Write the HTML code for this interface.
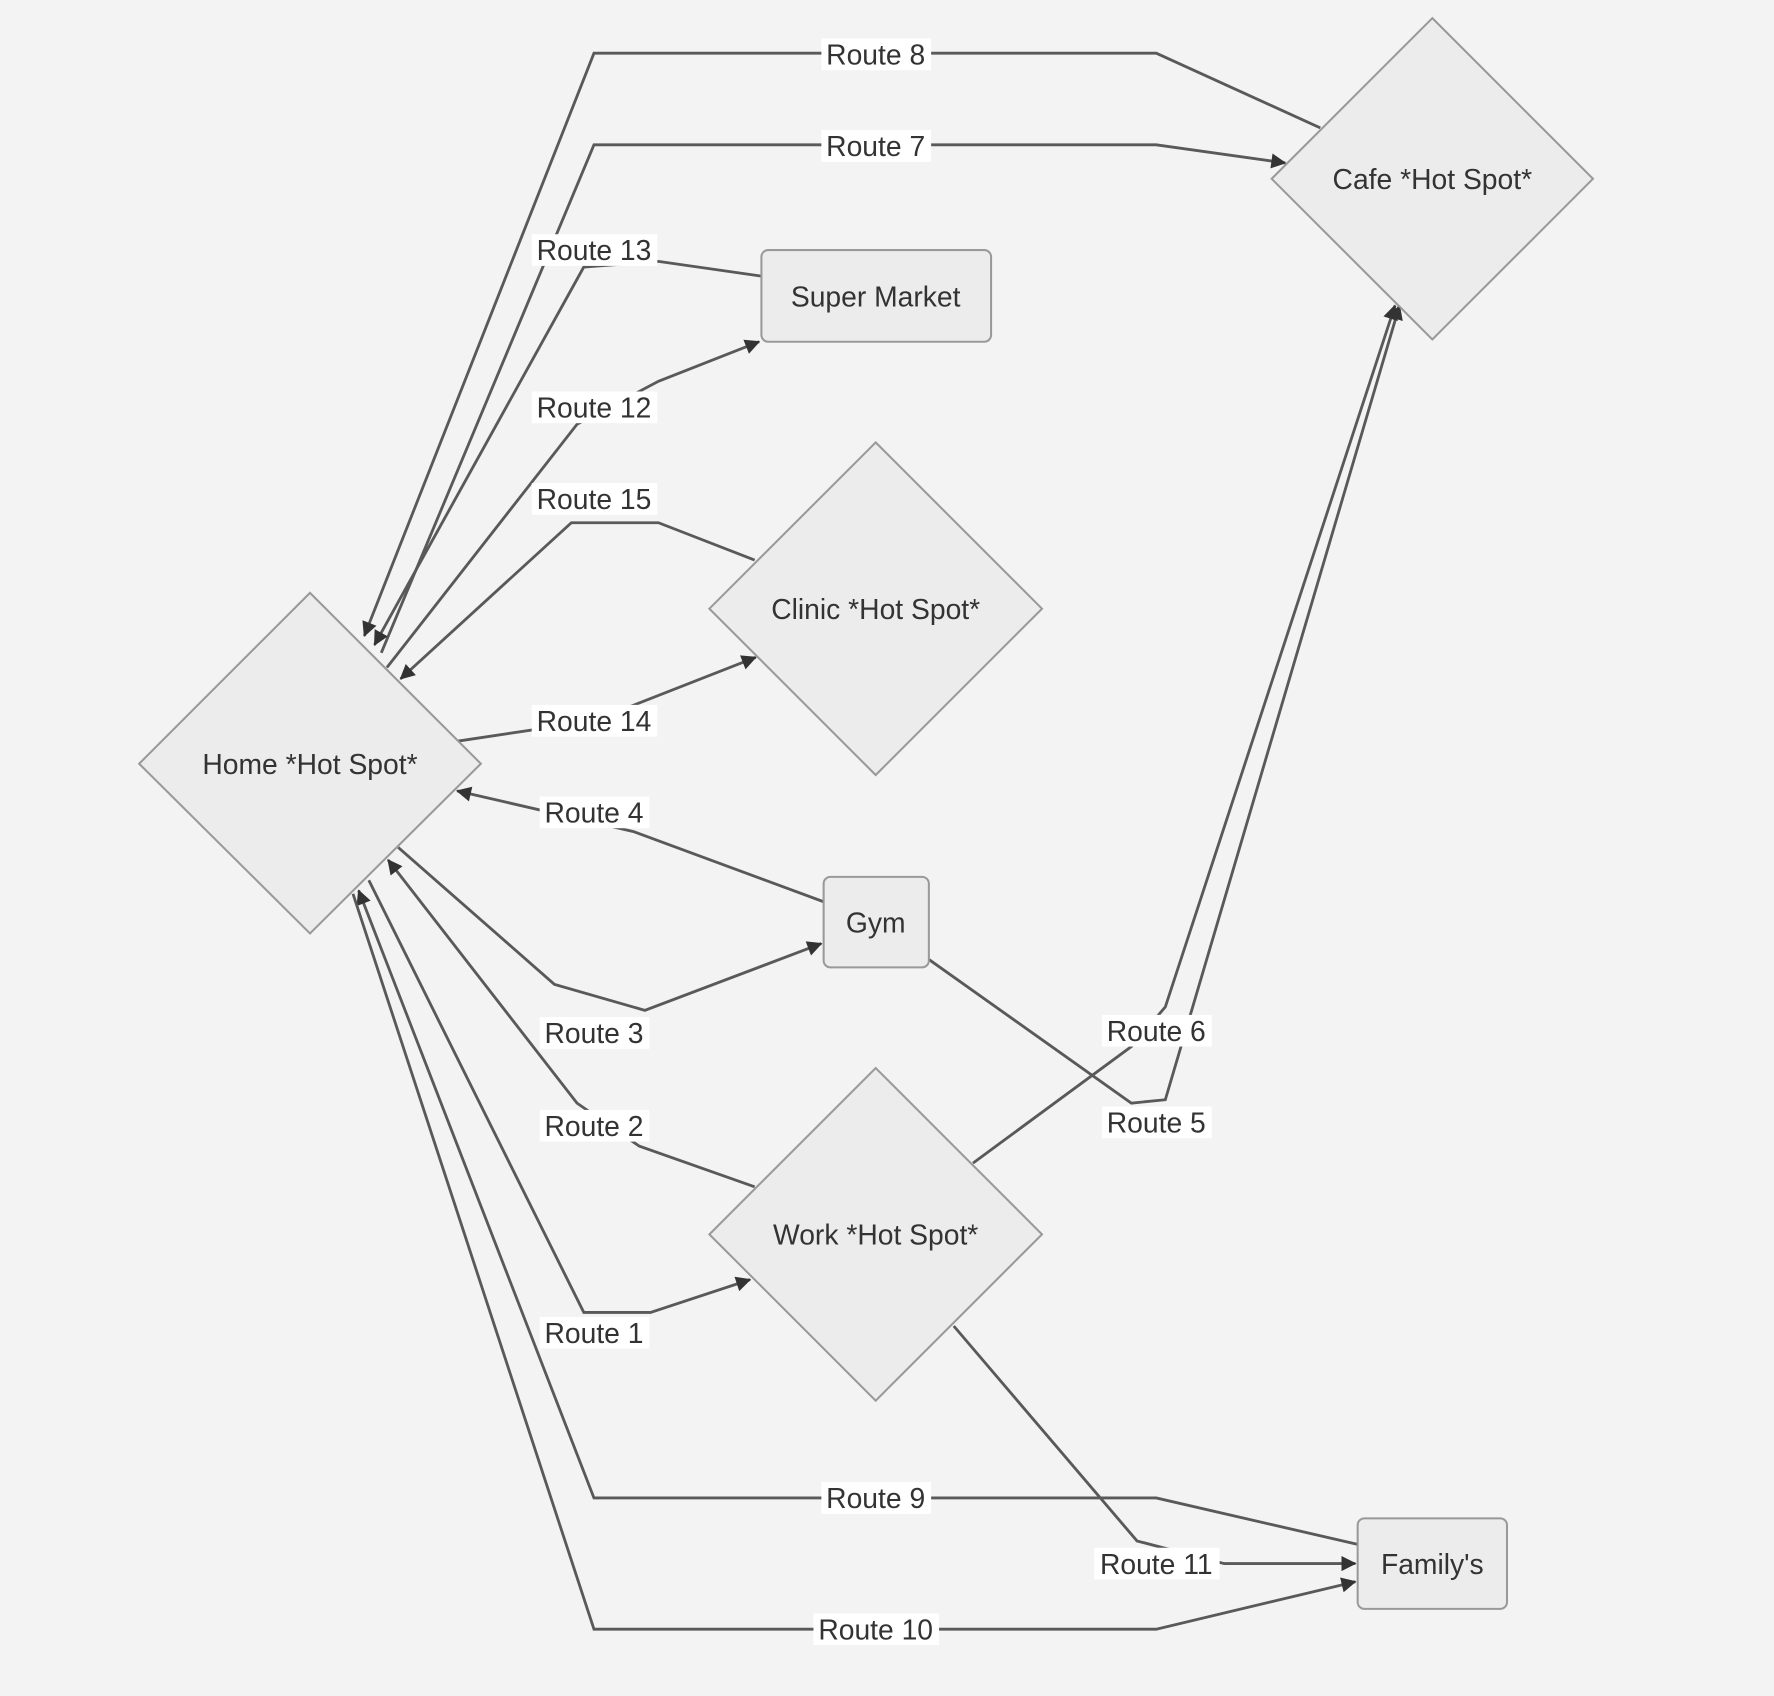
<!DOCTYPE html>
<html><head><meta charset="utf-8"><style>
html,body{margin:0;padding:0;background:#f3f3f3;}
svg{display:block;}
text{font-family:"Liberation Sans",sans-serif;font-size:25px;fill:#333;}
</style></head><body>
<svg width="1774" height="1696" viewBox="0 0 1568 1499" xmlns="http://www.w3.org/2000/svg">
<defs>
<marker id="a" viewBox="0 0 10 10" refX="9" refY="5" markerWidth="7" markerHeight="7" orient="auto" markerUnits="userSpaceOnUse" style="overflow:visible">
<path d="M0,0 L10,5 L0,10 z" fill="#333" transform="scale(1.9) translate(-4.5,-2.4)"/>
</marker>
</defs>
<rect width="1568" height="1499" fill="#f3f3f3"/>
<g fill="none" stroke="#595959" stroke-width="2.5">
<polyline points="1167,113 1022,47 525,47 322,562" marker-end="url(#a)"/>
<polyline points="337,577 525,128 1022,128 1136,144" marker-end="url(#a)"/>
<polyline points="673,244 582,231 516,236 331,570" marker-end="url(#a)"/>
<polyline points="342,590 510,375 582,337 671,302" marker-end="url(#a)"/>
<polyline points="667,495 582,462 505,462 354,600" marker-end="url(#a)"/>
<polyline points="405,655 525,637 668,581" marker-end="url(#a)"/>
<polyline points="728,797 560,735 404,699" marker-end="url(#a)"/>
<polyline points="352,749 490,870 570,893 726,834" marker-end="url(#a)"/>
<polyline points="667,1049 565,1013 510,975 343,760" marker-end="url(#a)"/>
<polyline points="326,778 516,1160 575,1160 663,1131" marker-end="url(#a)"/>
<polyline points="1200,1365 1022,1324 525,1324 317,787" marker-end="url(#a)"/>
<polyline points="312,790 525,1440 1022,1440 1198,1398" marker-end="url(#a)"/>
<polyline points="843,1172 1005,1362 1082,1382 1198,1382" marker-end="url(#a)"/>
<polyline points="821,848 1000,975 1030,972 1237,270" marker-end="url(#a)"/>
<polyline points="860,1028 1000,925 1030,890 1233,270" marker-end="url(#a)"/>
</g>
<g fill="#ececec" stroke="#999" stroke-width="1.8">
<polygon points="274,524 425,675 274,825 123,675"/>
<polygon points="1266,16 1408,158 1266,300 1124,158"/>
<polygon points="774,391 921,538 774,685 627,538"/>
<polygon points="774,944 921,1091 774,1238 627,1091"/>
<rect x="673" y="221" width="203" height="81" rx="6"/>
<rect x="728" y="775" width="93" height="80" rx="6"/>
<rect x="1200" y="1342" width="132" height="80" rx="6"/>
</g>
<g text-anchor="middle">
<text x="274" y="684">Home *Hot Spot*</text>
<text x="1266" y="167">Cafe *Hot Spot*</text>
<text x="774" y="547">Clinic *Hot Spot*</text>
<text x="774" y="1100">Work *Hot Spot*</text>
<text x="774" y="271">Super Market</text>
<text x="774" y="824">Gym</text>
<text x="1266" y="1391">Family's</text>
</g>
<g text-anchor="middle">
<g fill="#fff">
<rect x="726" y="34" width="97" height="28"/>
<rect x="726" y="115" width="97" height="28"/>
<rect x="470" y="207" width="111" height="28"/>
<rect x="470" y="346" width="111" height="28"/>
<rect x="470" y="427" width="111" height="28"/>
<rect x="470" y="623" width="111" height="28"/>
<rect x="477" y="704" width="97" height="28"/>
<rect x="477" y="899" width="97" height="28"/>
<rect x="477" y="981" width="97" height="28"/>
<rect x="477" y="1164" width="97" height="28"/>
<rect x="726" y="1310" width="97" height="28"/>
<rect x="719" y="1426" width="111" height="28"/>
<rect x="967" y="1368" width="111" height="28"/>
<rect x="974" y="897" width="97" height="28"/>
<rect x="974" y="978" width="97" height="28"/>
</g>
<text x="774" y="57">Route 8</text>
<text x="774" y="138">Route 7</text>
<text x="525" y="230">Route 13</text>
<text x="525" y="369">Route 12</text>
<text x="525" y="450">Route 15</text>
<text x="525" y="646">Route 14</text>
<text x="525" y="727">Route 4</text>
<text x="525" y="922">Route 3</text>
<text x="525" y="1004">Route 2</text>
<text x="525" y="1187">Route 1</text>
<text x="774" y="1333">Route 9</text>
<text x="774" y="1449">Route 10</text>
<text x="1022" y="1391">Route 11</text>
<text x="1022" y="920">Route 6</text>
<text x="1022" y="1001">Route 5</text>
</g>
</svg>
</body></html>
